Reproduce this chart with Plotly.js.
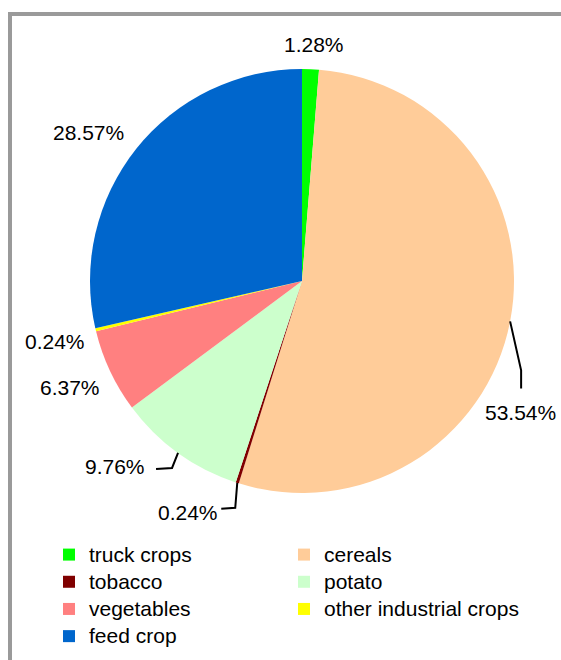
<!DOCTYPE html>
<html>
<head>
<meta charset="utf-8">
<script src="https://cdn.plot.ly/plotly-3.0.1.min.js"></script>
<style>
  html, body { margin: 0; padding: 0; background: #fff; }
  #chart { width: 561px; height: 660px; }
</style>
</head>
<body>
<div id="chart"></div>
<script>
// ---- data ----
const categories = ["truck crops", "cereals", "tobacco", "potato", "vegetables", "other industrial crops", "feed crop"];
const shares = [1.28, 53.54, 0.24, 9.76, 6.37, 0.24, 28.57];
const colors = ["#00FF00", "#FFCC99", "#800000", "#CCFFCC", "#FF8080", "#FFFF00", "#0066CC"];

// ---- label placement (style, in pixels, relative to slice edge at mid-angle) ----
const labelOffsets = [[3, -25], [10, 91], [-49, 30], [-63, 14], [-40, 16], [-41, 12], [-48, -16]];
// leader lines: null = none; otherwise elbow points [dx,dy] from the edge point
const leaders = [null, [[11, 49], [11, 67]], [[-2, 25], [-16, 26]], [[-6, 15], [-22, 16]], null, null, null];

const W = 561, H = 660;
const FONT = "Liberation Sans, Arial, Helvetica, sans-serif";
const pieBox = { left: 89, right: 515, top: 69, bottom: 493 };
const cx = (pieBox.left + pieBox.right) / 2;
const cy = (pieBox.top + pieBox.bottom) / 2;
const R = Math.min(pieBox.right - pieBox.left, pieBox.bottom - pieBox.top) / 2;

const px2x = p => p / W;
const px2y = p => (H - p) / H;

const total = shares.reduce((a, b) => a + b, 0);
const annotations = [];
const shapes = [];
let cum = 0;
shares.forEach((v, i) => {
  const mid = (cum + v / 2) / total * 2 * Math.PI;
  cum += v;
  const ex = cx + R * Math.sin(mid);
  const ey = cy - R * Math.cos(mid);
  const [dx, dy] = labelOffsets[i];
  annotations.push({
    xref: "paper", yref: "paper",
    x: px2x(ex + dx), y: px2y(ey + dy),
    xanchor: "center", yanchor: "middle",
    text: (v / total * 100).toFixed(2) + "%",
    showarrow: false,
    font: { family: FONT, size: 21, color: "#000" }
  });
  if (leaders[i]) {
    let path = "M" + px2x(ex) + "," + px2y(ey);
    leaders[i].forEach(([lx, ly]) => { path += " L" + px2x(ex + lx) + "," + px2y(ey + ly); });
    shapes.push({ type: "path", xref: "paper", yref: "paper", path: path,
      line: { color: "#000", width: 2 } });
  }
});

// frame (top and left edges of the surrounding panel)
shapes.push({ type: "line", xref: "paper", yref: "paper", x0: px2x(10), x1: px2x(10), y0: 0, y1: px2y(12),
  line: { color: "#9a9a9a", width: 4 } });
shapes.push({ type: "line", xref: "paper", yref: "paper", x0: px2x(8), x1: 1, y0: px2y(14), y1: px2y(14),
  line: { color: "#9a9a9a", width: 4 } });

const legendLabels = categories.map(c => '<span style="font-size:21px">' + c + '</span>');

const trace = {
  type: "pie",
  labels: legendLabels,
  values: shares,
  sort: false,
  direction: "clockwise",
  rotation: 0,
  marker: { colors: colors, line: { width: 0 } },
  textinfo: "none",
  textposition: "none",
  hoverinfo: "label+percent",
  domain: { x: [px2x(pieBox.left), px2x(pieBox.right)], y: [px2y(pieBox.bottom), px2y(pieBox.top)] },
  automargin: false
};

const layout = {
  width: W,
  height: H,
  margin: { l: 0, r: 0, t: 0, b: 0, autoexpand: false },
  paper_bgcolor: "#fff",
  showlegend: true,
  font: { family: FONT, size: 21, color: "#000" },
  legend: {
    orientation: "h",
    x: px2x(49),
    xanchor: "left",
    y: px2y(536),
    yanchor: "top",
    entrywidth: 190,
    entrywidthmode: "pixels",
    font: { family: FONT, size: 18.6, color: "#000" },
    bgcolor: "rgba(0,0,0,0)"
  },
  annotations: annotations,
  shapes: shapes
};

Plotly.newPlot("chart", [trace], layout, { displayModeBar: false, staticPlot: true });
</script>
</body>
</html>
